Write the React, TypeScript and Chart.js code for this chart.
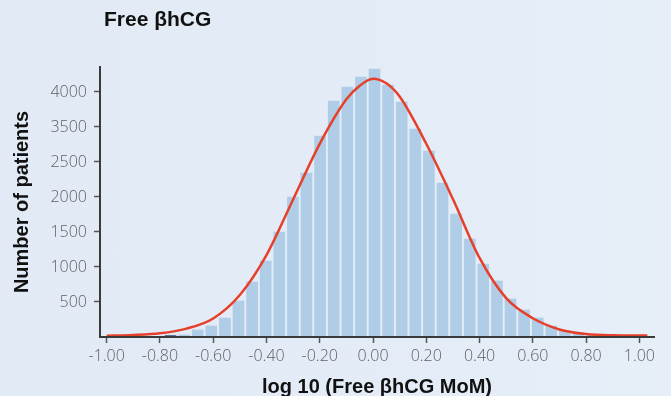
import React, { useEffect, useRef } from "react";
import { Chart, registerables } from "chart.js";

Chart.register(...registerables);

// ---- data ----
const chartTitle = "Free βhCG";
const xAxisTitle = "log 10 (Free βhCG MoM)";
const yAxisTitle = "Number of patients";

// histogram bins (bin centre in log10 MoM) and counts
const binCenters = [
  -0.7, -0.65, -0.6, -0.55, -0.5, -0.45, -0.4, -0.35, -0.3, -0.25, -0.2, -0.15,
  -0.1, -0.05, 0.0, 0.05, 0.1, 0.15, 0.2, 0.25, 0.3, 0.35, 0.4, 0.45, 0.5, 0.55,
  0.6, 0.65, 0.7, 0.75, 0.8, 0.85,
];
const binCounts = [
  29, 100, 157, 271, 514, 786, 1086, 1500, 2000, 2343, 2871, 3371,
  3571, 3714, 3829, 3600, 3357, 2971, 2657, 2200, 1757, 1400, 1043, 800, 543, 386,
  271, 157, 90, 52, 30, 12,
];

// the single dark tail bar
const darkBinCenters = [-0.75];
const darkBinCounts = [20];

// fitted curve, points
const curveX = [
  -1.0, -0.9, -0.8, -0.7, -0.6, -0.5, -0.4, -0.3, -0.2, -0.1, -0.05, 0.0, 0.05,
  0.1, 0.2, 0.3, 0.4, 0.5, 0.6, 0.7, 0.8, 0.9, 1.03,
];
const curveY = [
  18, 28, 52, 120, 265, 600, 1170, 1965, 2760, 3395, 3590, 3690, 3625,
  3435, 2760, 1970, 1130, 555, 268, 108, 42, 24, 20,
];

// axis ticks
const xTickValues = [-1.0, -0.8, -0.6, -0.4, -0.2, 0.0, 0.2, 0.4, 0.6, 0.8, 1.0];
const yTickValues = [500, 1000, 1500, 2000, 2500, 3000, 3500];
const yTickLabels = ["500", "1000", "1500", "2000", "2500", "3500", "4000"];

const FONT = "'Liberation Sans', Arial, Helvetica, sans-serif";
const TICK_FONT = "'Open Sans', 'Liberation Sans', Arial, sans-serif";

export default function App() {
  const canvasRef = useRef<HTMLCanvasElement | null>(null);

  useEffect(() => {
    const canvas = canvasRef.current;
    if (!canvas) return;

    const chart = new Chart(canvas, {
      type: "bar",
      data: {
        datasets: [
          {
            type: "line",
            data: curveX.map((x, i) => ({ x, y: curveY[i] })),
            xAxisID: "x",
            yAxisID: "y",
            borderColor: "#e6402b",
            borderWidth: 2.5,
            pointRadius: 0,
            fill: false,
            cubicInterpolationMode: "monotone",
            order: 0,
          } as any,
          {
            type: "bar",
            data: binCenters.map((x, i) => ({ x, y: binCounts[i] })),
            xAxisID: "xb",
            yAxisID: "y",
            backgroundColor: "#afcde6",
            borderWidth: 0,
            barThickness: 11,
            grouped: false,
            order: 1,
          } as any,
          {
            type: "bar",
            data: darkBinCenters.map((x, i) => ({ x, y: darkBinCounts[i] })),
            xAxisID: "xb",
            yAxisID: "y",
            backgroundColor: "#2d4866",
            borderWidth: 0,
            barThickness: 11,
            grouped: false,
            order: 1,
          } as any,
        ],
      },
      options: {
        animation: false,
        responsive: false,
        devicePixelRatio: 1,
        events: [],
        layout: { padding: { top: 67, right: 17, bottom: 0, left: 0 } },
        plugins: {
          legend: { display: false },
          tooltip: { enabled: false },
          title: { display: false },
        },
        scales: {
          x: {
            type: "linear",
            position: "bottom",
            min: -1.025,
            max: 1.055,
            offset: false,
            afterBuildTicks: (scale: any) => {
              scale.ticks = xTickValues.map((v) => ({ value: v }));
            },
            afterFit: (scale: any) => {
              scale.height = 59;
            },
            grid: {
              display: true,
              offset: false,
              drawOnChartArea: false,
              drawTicks: true,
              tickLength: 6,
              tickColor: "#555555",
              tickWidth: 1.5,
            },
            border: { display: true, color: "#3a3a3a", width: 2, z: 1 },
            ticks: {
              autoSkip: false,
              maxRotation: 0,
              padding: 4,
              color: "#5f5f5f",
              font: { family: TICK_FONT, size: 16, weight: "300" },
              callback: (value: any) => Number(value).toFixed(2),
            },
            title: {
              display: true,
              text: xAxisTitle,
              color: "#111111",
              font: { family: FONT, size: 20, weight: "bold", lineHeight: 0.9 },
              padding: { top: 0, bottom: 0 },
            },
          },
          xb: {
            type: "linear",
            display: false,
            position: "bottom",
            min: -1.0092,
            max: 1.0276,
            offset: false,
            grid: { offset: false },
          },
          y: {
            type: "linear",
            position: "left",
            min: 0,
            max: 3857,
            afterBuildTicks: (scale: any) => {
              scale.ticks = yTickValues.map((v) => ({ value: v }));
            },
            afterFit: (scale: any) => {
              scale.width = 100;
            },
            grid: {
              display: true,
              drawOnChartArea: false,
              drawTicks: true,
              tickLength: 6,
              tickColor: "#555555",
              tickWidth: 1.5,
            },
            border: { display: true, color: "#3a3a3a", width: 2, z: 1 },
            ticks: {
              autoSkip: false,
              padding: 7,
              color: "#5f5f5f",
              font: { family: TICK_FONT, size: 16, weight: "300" },
              callback: (_value: any, index: number) => yTickLabels[index],
            },
            title: {
              display: true,
              text: yAxisTitle,
              color: "#111111",
              font: { family: FONT, size: 20, weight: "bold", lineHeight: 0.9 },
              padding: { top: 13, bottom: 0 },
            },
          },
        },
      } as any,
    });

    return () => chart.destroy();
  }, []);

  return (
    <div
      style={{
        position: "fixed",
        left: 0,
        top: 0,
        width: 671,
        height: 396,
        overflow: "hidden",
        background: "linear-gradient(to right, #e1eaf5, #e6eef8)",
      }}
    >
      <canvas
        ref={canvasRef}
        width={671}
        height={396}
        style={{ position: "absolute", left: 0, top: 0, width: 671, height: 396, display: "block" }}
      />
      <div
        style={{
          position: "absolute",
          left: 104,
          top: 8,
          font: `bold 21px ${FONT}`,
          lineHeight: "21px",
          color: "#111111",
          whiteSpace: "nowrap",
        }}
      >
        {chartTitle}
      </div>
    </div>
  );
}
